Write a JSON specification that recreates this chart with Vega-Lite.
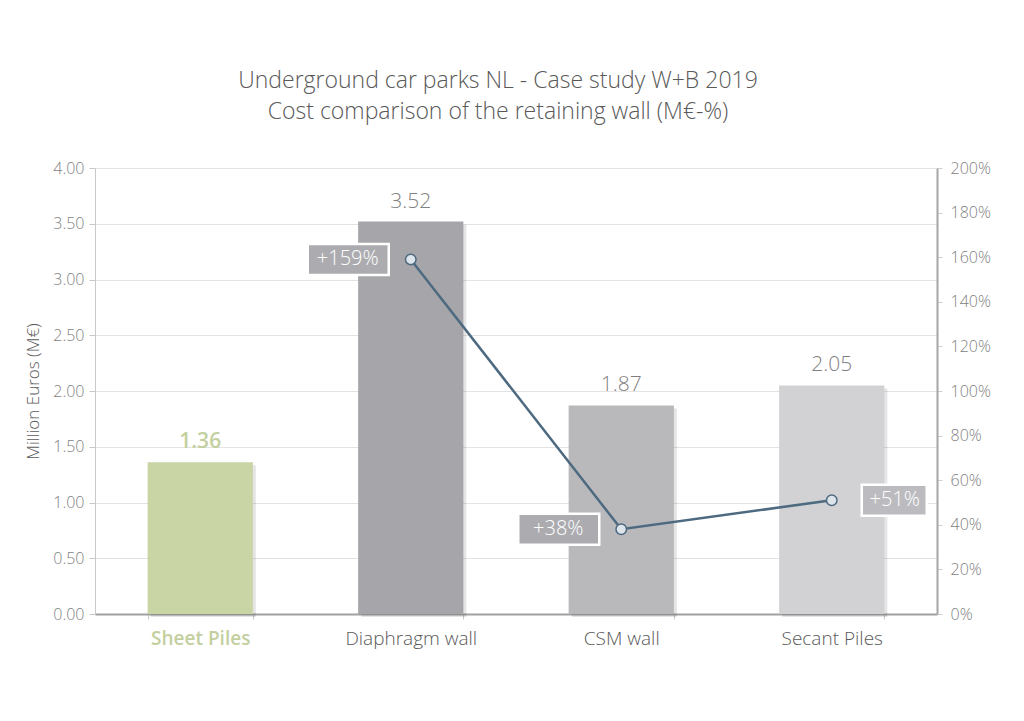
{
  "$schema": "https://vega.github.io/schema/vega-lite/v6.json",
  "width": 842,
  "height": 446,
  "autosize": {"type": "none"},
  "padding": {"left": 95, "top": 168, "right": 87, "bottom": 107},
  "background": "#ffffff",
  "title": {
    "text": ["Underground car parks NL - Case study W+B 2019", "Cost comparison of the retaining wall (M€-%)"],
    "font": "Open Sans",
    "fontWeight": 300,
    "fontSize": 23,
    "color": "#595959",
    "lineHeight": 31,
    "offset": 36,
    "dx": -18,
    "anchor": "middle"
  },
  "config": {
    "view": {"stroke": null},
    "font": "Open Sans",
    "axis": {"labelFont": "Open Sans", "titleFont": "Open Sans"}
  },
  "data": {
    "values": [
      {"type": "Sheet Piles", "cost": 1.36, "pct": null, "label": ""},
      {"type": "Diaphragm wall", "cost": 3.52, "pct": 159, "label": "+159%"},
      {"type": "CSM wall", "cost": 1.87, "pct": 38, "label": "+38%"},
      {"type": "Secant Piles", "cost": 2.05, "pct": 51, "label": "+51%"}
    ]
  },
  "encoding": {
    "x": {
      "field": "type",
      "type": "nominal",
      "sort": null,
      "title": null,
      "scale": {"paddingInner": 0.5, "paddingOuter": 0.25},
      "axis": {
        "labelAngle": 0,
        "labelFontSize": 19,
        "labelFontWeight": {"condition": {"test": "datum.value == 'Sheet Piles'", "value": 600}, "value": 300},
        "labelColor": {"condition": {"test": "datum.value == 'Sheet Piles'", "value": "#c3cf9e"}, "value": "#595959"},
        "labelPadding": 10,
        "domainColor": "#a0a0a0",
        "domainWidth": 2,
        "tickBand": "extent",
        "tickColor": "#c8c8c8",
        "tickSize": 5
      }
    }
  },
  "layer": [
    {
      "encoding": {
        "y": {
          "field": "cost",
          "type": "quantitative",
          "title": "Million Euros (M€)",
          "scale": {"domain": [0, 4]},
          "axis": {
            "values": [0, 0.5, 1, 1.5, 2, 2.5, 3, 3.5, 4],
            "format": ".2f",
            "labelFontSize": 16,
            "labelColor": "#7f7f7f",
            "labelFontWeight": 300,
            "labelPadding": 5,
            "titleFontSize": 17,
            "titleFontWeight": 300,
            "titleColor": "#595959",
            "titlePadding": 10,
            "domainColor": "#c8c8c8",
            "tickColor": "#c8c8c8",
            "tickSize": 6,
            "gridColor": "#e3e3e3",
            "grid": true
          }
        }
      },
      "layer": [
        {
          "mark": {"type": "bar", "color": "#000000", "opacity": 0.1, "xOffset": 3, "yOffset": 3, "y2Offset": 3}
        },
        {
          "mark": {"type": "bar"},
          "encoding": {
            "color": {
              "field": "type",
              "type": "nominal",
              "legend": null,
              "scale": {
                "domain": ["Sheet Piles", "Diaphragm wall", "CSM wall", "Secant Piles"],
                "range": ["#c9d5a5", "#a6a6aa", "#b9b9bc", "#d2d2d4"]
              }
            }
          }
        },
        {
          "transform": [{"filter": "datum.type != 'Sheet Piles'"}],
          "mark": {"type": "text", "baseline": "bottom", "dy": -10, "fontSize": 21, "fontWeight": 300, "color": "#7f7f7f"},
          "encoding": {
            "text": {"field": "cost", "type": "quantitative", "format": ".2f"}
          }
        },
        {
          "transform": [{"filter": "datum.type == 'Sheet Piles'"}],
          "mark": {"type": "text", "baseline": "bottom", "dy": -10, "fontSize": 21, "fontWeight": 600, "color": "#c3cf9e"},
          "encoding": {
            "text": {"field": "cost", "type": "quantitative", "format": ".2f"}
          }
        }
      ]
    },
    {
      "transform": [{"filter": "datum.pct != null"}],
      "encoding": {
        "y": {
          "field": "pct",
          "type": "quantitative",
          "title": null,
          "scale": {"domain": [0, 200]},
          "axis": {
            "orient": "right",
            "values": [0, 20, 40, 60, 80, 100, 120, 140, 160, 180, 200],
            "labelExpr": "datum.value + '%'",
            "labelFontSize": 16,
            "labelColor": "#7f7f7f",
            "labelFontWeight": 300,
            "domainColor": "#a6a6a6",
            "domainWidth": 2,
            "tickColor": "#d0d0d0",
            "tickSize": 5,
            "labelPadding": 8,
            "grid": false
          }
        }
      },
      "layer": [
        {
          "mark": {"type": "line", "color": "#4d6a80", "strokeWidth": 2.5}
        },
        {
          "mark": {"type": "point", "shape": "circle", "size": 110, "filled": true, "fill": "#dde4ea", "stroke": "#4d6a80", "strokeWidth": 1.5, "opacity": 1}
        },
        {
          "transform": [{"filter": "datum.type != 'Secant Piles'"}],
          "mark": {"type": "point", "shape": "M-10.3,-1.55H-2.2V1.55H-10.3Z", "size": 400, "filled": true, "fill": "#acacb0", "stroke": "#ffffff", "strokeWidth": 2.5, "opacity": 1}
        },
        {
          "transform": [{"filter": "datum.type == 'Secant Piles'"}],
          "mark": {"type": "point", "shape": "M3,-1.55H9.5V1.55H3Z", "size": 400, "filled": true, "fill": "#bcbcc0", "stroke": "#ffffff", "strokeWidth": 2.5, "opacity": 1}
        },
        {
          "transform": [{"filter": "datum.type != 'Secant Piles'"}],
          "mark": {"type": "text", "dx": -63, "align": "center", "baseline": "middle", "fontSize": 20, "fontWeight": 300, "color": "#ffffff"},
          "encoding": {"text": {"field": "label"}}
        },
        {
          "transform": [{"filter": "datum.type == 'Secant Piles'"}],
          "mark": {"type": "text", "dx": 63, "align": "center", "baseline": "middle", "fontSize": 20, "fontWeight": 300, "color": "#ffffff"},
          "encoding": {"text": {"field": "label"}}
        }
      ]
    }
  ],
  "resolve": {"scale": {"y": "independent", "color": "independent"}, "axis": {"y": "independent"}}
}
